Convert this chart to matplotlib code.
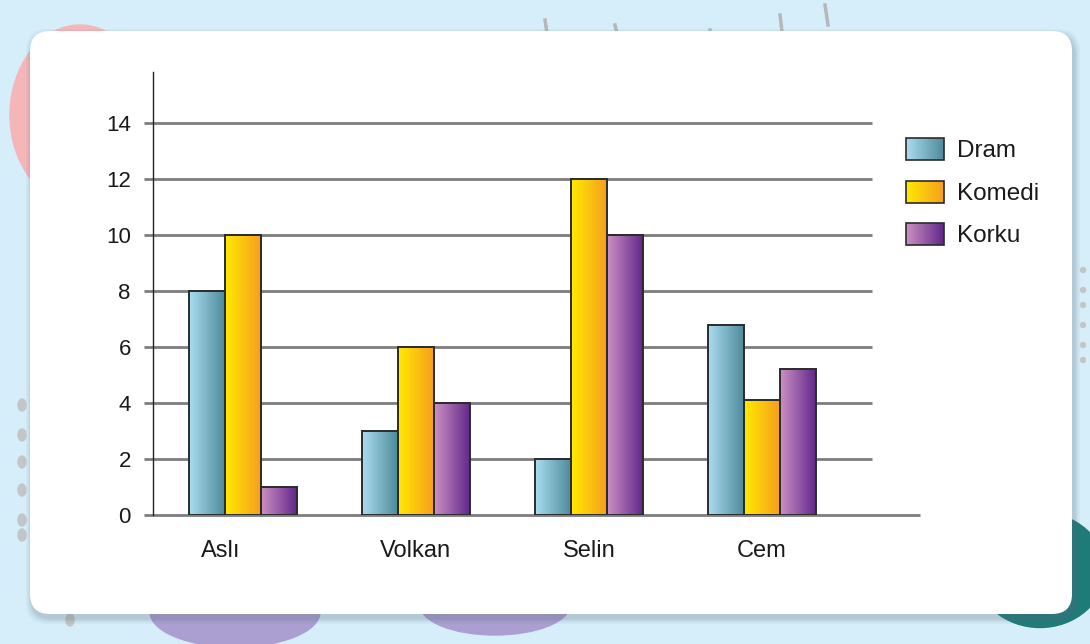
import numpy as np
import matplotlib
matplotlib.use("Agg")
import matplotlib.pyplot as plt
from matplotlib.patches import FancyBboxPatch, Ellipse, Circle, Rectangle
from matplotlib.colors import LinearSegmentedColormap
from matplotlib.transforms import ScaledTranslation

plt.rcParams['font.family'] = ['Liberation Sans', 'DejaVu Sans']

# data
people = ['Aslı', 'Volkan', 'Selin', 'Cem']
series = ['Dram', 'Komedi', 'Korku']
dram = [8, 3, 2, 6.8]
komedi = [10, 6, 12, 4.1]
korku = [1, 4, 10, 5.2]
yticks = [0, 2, 4, 6, 8, 10, 12, 14]

values = [dram, komedi, korku]
grads = [('#aadcf0', '#4f8b9b'), ('#ffea00', '#f69f1f'), ('#cc90c2', '#62288a')]
edge = '#2b2b2b'

W, H = 1090, 644
fig = plt.figure(figsize=(W / 100, H / 100), dpi=100)
fig.patch.set_facecolor('#d5eefa')

# background decorations, pixel coordinates
bg = fig.add_axes([0, 0, 1, 1])
bg.set_xlim(0, W)
bg.set_ylim(H, 0)
bg.axis('off')
bg.add_patch(Ellipse((80, 115), 140, 180, color='#f5b6ba', zorder=0))
bg.add_patch(Ellipse((235, 612), 170, 70, color='#ab9fd2', zorder=0))
bg.add_patch(Ellipse((495, 605), 150, 60, color='#ab9fd2', zorder=0))
bg.add_patch(Ellipse((1040, 570), 130, 115, color='#1e7b78', zorder=0))
for yy in [405, 435, 462, 490, 520, 535]:
    bg.add_patch(Ellipse((22, yy), 8, 12, color='#c2c6c8', zorder=0))
bg.add_patch(Ellipse((70, 620), 8, 12, color='#c2c6c8', zorder=0))
for yy in [270, 290, 305, 325, 345, 360]:
    bg.add_patch(Circle((1083, yy), 2.5, color='#c2c6c8', zorder=0))
for x0, y0, y1 in [(545, 20, 40), (615, 25, 38), (710, 30, 40), (780, 15, 40), (825, 5, 25)]:
    bg.plot([x0, x0 + 3], [y0, y1], color='#b5b8ba', lw=2.5, zorder=0)

# card with soft shadow
for i, a in enumerate([0.05, 0.06, 0.08, 0.1]):
    g = 6 - i * 1.5
    bg.add_patch(FancyBboxPatch((30 - g + 2, 31 - g + 4), 1042 + 2 * g, 583 + 2 * g,
                                boxstyle='round,pad=0,rounding_size=22',
                                fc='#5a6a78', ec='none', alpha=a, zorder=1))
bg.add_patch(FancyBboxPatch((30, 31), 1042, 583, boxstyle='round,pad=0,rounding_size=20',
                            fc='white', ec='none', zorder=2))

# main chart
ax = fig.add_axes([153 / W, (H - 515) / H, (920 - 153) / W, (515 - 72) / H])
ax.patch.set_alpha(0)
x = np.arange(len(people))
w = 0.208
xmin, xmax = -0.52, 3.915
grid_end = 3.64

for t in yticks:
    ax.plot([xmin - 0.052, grid_end if t > 0 else xmax], [t, t], color='#7d7d80',
            lw=2, zorder=1, clip_on=False, solid_capstyle='butt')

for i, vals in enumerate(values):
    cmap = LinearSegmentedColormap.from_list(series[i], grads[i])
    bars = ax.bar(x + (i - 1) * w, vals, w, facecolor='none', edgecolor=edge,
                  linewidth=1.4, zorder=3)
    for b in bars:
        bx, by = b.get_x(), b.get_y()
        im = ax.imshow(np.linspace(0, 1, 64).reshape(1, -1), cmap=cmap, aspect='auto',
                       extent=[bx, bx + b.get_width(), by, by + b.get_height()],
                       zorder=2.5, interpolation='bilinear')
        im.set_clip_path(b)

ax.set_xlim(xmin, xmax)
ax.set_ylim(0, (515 - 72) / 28)
for s in ['top', 'right', 'bottom']:
    ax.spines[s].set_visible(False)
ax.spines['left'].set_color('#222222')
ax.spines['left'].set_linewidth(1)
ax.set_yticks(yticks)
ax.set_yticklabels([str(t) for t in yticks])
ax.tick_params(axis='y', length=0, pad=16, labelsize=16, labelcolor='#1a1a1a')
ax.set_xticks(x)
ax.set_xticklabels(people)
ax.tick_params(axis='x', length=0, pad=18, labelsize=17, labelcolor='#1a1a1a')
first = ax.get_xticklabels()[0]
first.set_transform(first.get_transform() + ScaledTranslation(-0.22, 0, fig.dpi_scale_trans))

# legend drawn in pixel coordinates
lg = fig.add_axes([0, 0, 1, 1])
lg.set_xlim(0, W)
lg.set_ylim(H, 0)
lg.axis('off')
for i, name in enumerate(series):
    cy = 149 + i * 42.5
    cmap = LinearSegmentedColormap.from_list(name, grads[i])
    lg.imshow(np.linspace(0, 1, 64).reshape(1, -1), cmap=cmap, aspect='auto',
              extent=[906, 944, cy + 11, cy - 11], interpolation='bilinear', zorder=2)
    lg.add_patch(Rectangle((906, cy - 11), 38, 22, fc='none', ec=edge, lw=1.2, zorder=3))
    lg.text(957, cy + 2, name, fontsize=17.5, va='center', ha='left', color='#1a1a1a')
lg.set_xlim(0, W)
lg.set_ylim(H, 0)

fig.savefig('out.png', dpi=100, facecolor=fig.get_facecolor())
